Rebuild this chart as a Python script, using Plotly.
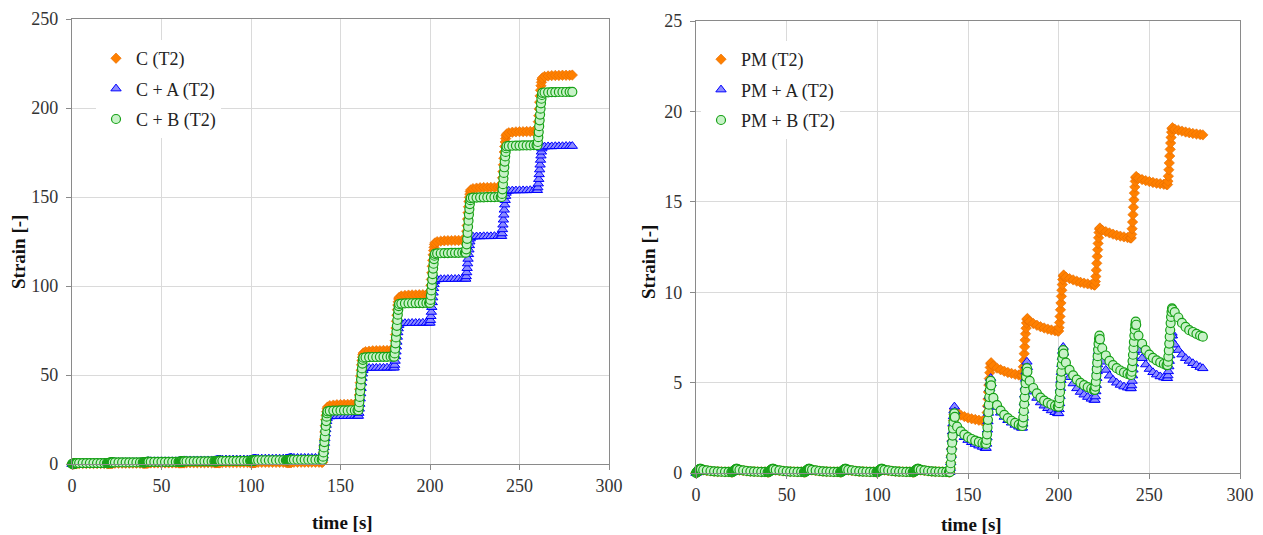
import plotly.graph_objects as go

# ---- sampling grid: cycle start times and in-cycle sample offsets (s) ----
CYCLE_STARTS = [0, 20, 40, 60, 80, 100, 120, 140, 160, 180, 200, 220, 240, 260]
OFFSETS = [0, 0.25, 0.5, 0.75, 1.0, 1.25, 1.5, 1.75, 2.0, 2.25, 2.5, 2.75,
           4, 6, 8, 10, 12, 14, 16, 18, 19.5]

# ---- left panel: strain per cycle (one row per 20 s cycle) ----
C_T2 = [
    [0, 0.02, 0.05, 0.08, 0.11, 0.14, 0.17, 0.2, 0.23, 0.26, 0.28, 0.29, 0.3, 0.3, 0.3, 0.3, 0.3, 0.3, 0.3, 0.3, 0.3],
    [0.3, 0.31, 0.32, 0.34, 0.36, 0.38, 0.4, 0.41, 0.42, 0.43, 0.44, 0.45, 0.45, 0.45, 0.45, 0.45, 0.45, 0.45, 0.45, 0.45, 0.45],
    [0.45, 0.46, 0.47, 0.49, 0.51, 0.53, 0.55, 0.56, 0.57, 0.58, 0.59, 0.6, 0.6, 0.6, 0.6, 0.6, 0.6, 0.6, 0.6, 0.6, 0.6],
    [0.6, 0.61, 0.62, 0.63, 0.64, 0.65, 0.66, 0.67, 0.68, 0.69, 0.7, 0.7, 0.7, 0.7, 0.7, 0.7, 0.7, 0.7, 0.7, 0.7, 0.7],
    [0.7, 0.71, 0.72, 0.73, 0.74, 0.75, 0.76, 0.77, 0.78, 0.79, 0.8, 0.8, 0.8, 0.8, 0.8, 0.8, 0.8, 0.8, 0.8, 0.8, 0.8],
    [0.8, 0.81, 0.82, 0.83, 0.84, 0.85, 0.86, 0.87, 0.88, 0.89, 0.9, 0.9, 0.9, 0.9, 0.9, 0.9, 0.9, 0.9, 0.9, 0.9, 0.9],
    [0.9, 0.91, 0.92, 0.93, 0.94, 0.95, 0.96, 0.97, 0.98, 0.99, 1.0, 1.0, 1.0, 1.0, 1.0, 1.0, 1.0, 1.0, 1.0, 1.0, 1.0],
    [1.0, 3.3, 6.5, 10.1, 14.0, 18.0, 21.5, 24.8, 27.4, 29.4, 31.0, 32.0, 32.8, 33.1, 33.3, 33.4, 33.5, 33.5, 33.6, 33.6, 33.6],
    [33.6, 35.7, 38.8, 42.1, 45.7, 49.4, 52.7, 55.7, 58.1, 60.0, 61.5, 62.4, 63.1, 63.4, 63.6, 63.7, 63.7, 63.8, 63.8, 63.8, 63.9],
    [63.9, 66.1, 69.2, 72.7, 76.4, 80.2, 83.6, 86.7, 89.3, 91.1, 92.7, 93.6, 94.4, 94.7, 94.9, 95.0, 95.0, 95.1, 95.1, 95.1, 95.2],
    [95.2, 97.3, 100.4, 103.7, 107.4, 111.1, 114.4, 117.5, 119.9, 121.7, 123.3, 124.2, 124.9, 125.2, 125.4, 125.5, 125.5, 125.6, 125.6, 125.6, 125.7],
    [125.7, 127.8, 130.8, 134.0, 137.6, 141.2, 144.5, 147.5, 149.8, 151.6, 153.1, 154.0, 154.7, 155.0, 155.2, 155.3, 155.3, 155.4, 155.4, 155.4, 155.5],
    [155.5, 157.7, 160.8, 164.3, 168.1, 171.8, 175.3, 178.4, 180.9, 182.8, 184.4, 185.3, 186.1, 186.4, 186.6, 186.7, 186.7, 186.8, 186.8, 186.8, 186.9],
    [186.9, 189.1, 192.3, 195.7, 199.5, 203.3, 206.8, 210.0, 212.5, 214.4, 216.0, 216.9, 217.7, 218.0, 218.2, 218.3, 218.3, 218.4, 218.4, 218.4, 218.5],
]
C_A_T2 = [
    [0, 0.04, 0.09, 0.15, 0.22, 0.28, 0.35, 0.41, 0.47, 0.53, 0.57, 0.59, 0.6, 0.6, 0.6, 0.6, 0.6, 0.6, 0.6, 0.6, 0.6],
    [0.6, 0.62, 0.66, 0.7, 0.74, 0.79, 0.83, 0.88, 0.92, 0.95, 0.98, 1.0, 1.0, 1.0, 1.0, 1.0, 1.0, 1.0, 1.0, 1.0, 1.0],
    [1.0, 1.03, 1.08, 1.13, 1.18, 1.24, 1.29, 1.35, 1.4, 1.44, 1.48, 1.5, 1.5, 1.5, 1.5, 1.5, 1.5, 1.5, 1.5, 1.5, 1.5],
    [1.5, 1.53, 1.58, 1.63, 1.68, 1.74, 1.79, 1.85, 1.9, 1.94, 1.98, 2.0, 2.0, 2.0, 2.0, 2.0, 2.0, 2.0, 2.0, 2.0, 2.0],
    [2.0, 2.03, 2.08, 2.13, 2.18, 2.24, 2.29, 2.35, 2.4, 2.44, 2.48, 2.5, 2.5, 2.5, 2.5, 2.5, 2.5, 2.5, 2.5, 2.5, 2.5],
    [2.5, 2.53, 2.58, 2.63, 2.68, 2.74, 2.79, 2.85, 2.9, 2.94, 2.98, 3.0, 3.0, 3.0, 3.0, 3.0, 3.0, 3.0, 3.0, 3.0, 3.0],
    [3.0, 3.02, 3.06, 3.1, 3.14, 3.19, 3.23, 3.28, 3.32, 3.35, 3.38, 3.4, 3.4, 3.4, 3.4, 3.4, 3.4, 3.4, 3.4, 3.4, 3.4],
    [3.4, 4.8, 6.9, 9.3, 11.8, 14.4, 17.0, 19.5, 21.9, 24.0, 25.6, 26.6, 26.7, 26.8, 26.8, 26.9, 26.9, 26.9, 27.0, 27.0, 27.0],
    [27.0, 28.6, 31.0, 33.7, 36.7, 39.6, 42.6, 45.6, 48.3, 50.7, 52.6, 53.6, 53.8, 53.9, 53.9, 54.0, 54.0, 54.0, 54.1, 54.1, 54.1],
    [54.1, 55.6, 57.9, 60.4, 63.1, 65.9, 68.6, 71.4, 73.9, 76.1, 77.9, 78.9, 79.0, 79.1, 79.1, 79.2, 79.2, 79.2, 79.3, 79.3, 79.3],
    [79.3, 80.8, 83.0, 85.4, 88.1, 90.8, 93.5, 96.2, 98.7, 100.9, 102.6, 103.5, 103.7, 103.8, 103.8, 103.9, 103.9, 103.9, 104.0, 104.0, 104.0],
    [104.0, 105.4, 107.6, 110.0, 112.6, 115.2, 117.8, 120.4, 122.8, 124.9, 126.6, 127.6, 127.7, 127.8, 127.8, 127.9, 127.9, 127.9, 128.0, 128.0, 128.0],
    [128.0, 129.5, 131.8, 134.4, 137.2, 140.0, 142.8, 145.7, 148.2, 150.5, 152.3, 153.3, 153.5, 153.6, 153.6, 153.7, 153.7, 153.7, 153.8, 153.8, 153.8],
    [153.8, 155.3, 157.5, 160.0, 162.7, 165.4, 168.1, 170.8, 173.2, 175.4, 177.2, 178.2, 178.3, 178.4, 178.4, 178.5, 178.5, 178.5, 178.6, 178.6, 178.6],
]
C_B_T2 = [
    [0, 0.03, 0.08, 0.13, 0.18, 0.24, 0.29, 0.35, 0.4, 0.44, 0.48, 0.5, 0.5, 0.5, 0.5, 0.5, 0.5, 0.5, 0.5, 0.5, 0.5],
    [0.5, 0.52, 0.56, 0.6, 0.64, 0.69, 0.73, 0.78, 0.82, 0.85, 0.88, 0.9, 0.9, 0.9, 0.9, 0.9, 0.9, 0.9, 0.9, 0.9, 0.9],
    [0.9, 0.92, 0.95, 0.98, 1.01, 1.04, 1.07, 1.11, 1.14, 1.16, 1.18, 1.2, 1.2, 1.2, 1.2, 1.2, 1.2, 1.2, 1.2, 1.2, 1.2],
    [1.2, 1.22, 1.25, 1.28, 1.31, 1.34, 1.37, 1.41, 1.44, 1.46, 1.48, 1.5, 1.5, 1.5, 1.5, 1.5, 1.5, 1.5, 1.5, 1.5, 1.5],
    [1.5, 1.52, 1.55, 1.58, 1.61, 1.64, 1.67, 1.71, 1.74, 1.76, 1.78, 1.8, 1.8, 1.8, 1.8, 1.8, 1.8, 1.8, 1.8, 1.8, 1.8],
    [1.8, 1.82, 1.85, 1.88, 1.91, 1.94, 1.97, 2.01, 2.04, 2.06, 2.08, 2.1, 2.1, 2.1, 2.1, 2.1, 2.1, 2.1, 2.1, 2.1, 2.1],
    [2.1, 2.12, 2.15, 2.18, 2.21, 2.24, 2.27, 2.31, 2.34, 2.36, 2.38, 2.4, 2.4, 2.4, 2.4, 2.4, 2.4, 2.4, 2.4, 2.4, 2.4],
    [2.4, 4.1, 6.5, 9.3, 12.3, 15.3, 18.4, 21.4, 24.1, 26.6, 28.5, 29.6, 29.9, 30.0, 30.0, 30.1, 30.1, 30.1, 30.2, 30.2, 30.2],
    [30.2, 32.0, 34.7, 37.7, 40.9, 44.2, 47.5, 50.8, 53.7, 56.4, 58.5, 59.7, 59.9, 60.0, 60.1, 60.1, 60.2, 60.2, 60.2, 60.3, 60.3],
    [60.3, 62.1, 64.8, 67.8, 71.1, 74.4, 77.6, 80.9, 83.9, 86.6, 88.7, 89.9, 90.1, 90.2, 90.3, 90.3, 90.4, 90.4, 90.4, 90.5, 90.5],
    [90.5, 92.2, 94.7, 97.5, 100.5, 103.6, 106.7, 109.8, 112.5, 115.1, 117.0, 118.1, 118.3, 118.4, 118.5, 118.5, 118.6, 118.6, 118.6, 118.7, 118.7],
    [118.7, 120.6, 123.4, 126.5, 129.9, 133.3, 136.7, 140.1, 143.2, 146.0, 148.2, 149.4, 149.6, 149.7, 149.8, 149.8, 149.9, 149.9, 149.9, 150.0, 150.0],
    [150.0, 151.7, 154.3, 157.2, 160.4, 163.5, 166.7, 169.9, 172.8, 175.3, 177.4, 178.5, 178.7, 178.8, 178.9, 178.9, 179.0, 179.0, 179.0, 179.1, 179.1],
    [179.1, 180.9, 183.6, 186.5, 189.8, 193.1, 196.3, 199.6, 202.6, 205.2, 207.3, 208.5, 208.7, 208.8, 208.9, 208.9, 209.0, 209.0, 209.0, 209.1, 209.1],
]

# ---- right panel ----
PM_T2 = [
    [0, 0.02, 0.04, 0.07, 0.1, 0.13, 0.15, 0.17, 0.19, 0.2, 0.2, 0.19, 0.16, 0.13, 0.11, 0.09, 0.08, 0.07, 0.06, 0.06, 0.05],
    [0.05, 0.06, 0.08, 0.1, 0.12, 0.14, 0.16, 0.18, 0.19, 0.2, 0.2, 0.19, 0.16, 0.13, 0.11, 0.09, 0.08, 0.07, 0.06, 0.06, 0.05],
    [0.05, 0.06, 0.08, 0.1, 0.12, 0.14, 0.16, 0.18, 0.19, 0.2, 0.2, 0.19, 0.16, 0.13, 0.11, 0.09, 0.08, 0.07, 0.06, 0.06, 0.05],
    [0.05, 0.06, 0.08, 0.1, 0.12, 0.14, 0.16, 0.18, 0.19, 0.2, 0.2, 0.19, 0.16, 0.13, 0.11, 0.09, 0.08, 0.07, 0.06, 0.06, 0.05],
    [0.05, 0.06, 0.08, 0.1, 0.12, 0.14, 0.16, 0.18, 0.19, 0.2, 0.2, 0.19, 0.16, 0.13, 0.11, 0.09, 0.08, 0.07, 0.06, 0.06, 0.05],
    [0.05, 0.06, 0.08, 0.1, 0.12, 0.14, 0.16, 0.18, 0.19, 0.2, 0.2, 0.19, 0.16, 0.13, 0.11, 0.09, 0.08, 0.07, 0.06, 0.06, 0.05],
    [0.05, 0.06, 0.08, 0.1, 0.12, 0.14, 0.16, 0.18, 0.19, 0.2, 0.2, 0.19, 0.16, 0.13, 0.11, 0.09, 0.08, 0.07, 0.06, 0.06, 0.05],
    [0.05, 0.26, 0.57, 0.95, 1.36, 1.78, 2.19, 2.57, 2.91, 3.22, 3.43, 3.5, 3.32, 3.2, 3.12, 3.05, 3.0, 2.96, 2.92, 2.88, 2.85],
    [2.85, 3.05, 3.34, 3.7, 4.09, 4.48, 4.87, 5.22, 5.55, 5.84, 6.04, 6.1, 5.92, 5.8, 5.71, 5.63, 5.56, 5.51, 5.46, 5.42, 5.4],
    [5.4, 5.59, 5.87, 6.22, 6.6, 6.98, 7.35, 7.7, 8.01, 8.3, 8.49, 8.55, 8.38, 8.27, 8.17, 8.09, 8.02, 7.96, 7.91, 7.87, 7.85],
    [7.85, 8.04, 8.32, 8.66, 9.03, 9.4, 9.77, 10.11, 10.42, 10.7, 10.89, 10.95, 10.83, 10.75, 10.68, 10.61, 10.55, 10.5, 10.46, 10.42, 10.4],
    [10.4, 10.59, 10.87, 11.22, 11.6, 11.98, 12.35, 12.7, 13.01, 13.3, 13.49, 13.55, 13.43, 13.35, 13.28, 13.21, 13.15, 13.1, 13.06, 13.02, 13.0],
    [13.0, 13.2, 13.51, 13.88, 14.29, 14.7, 15.11, 15.48, 15.82, 16.13, 16.33, 16.4, 16.3, 16.23, 16.17, 16.12, 16.07, 16.03, 16.0, 15.97, 15.95],
    [15.95, 16.14, 16.42, 16.77, 17.15, 17.53, 17.9, 18.25, 18.56, 18.85, 19.04, 19.1, 19.02, 18.96, 18.91, 18.86, 18.82, 18.78, 18.75, 18.72, 18.7],
]
PM_A_T2 = [
    [0, 0.02, 0.04, 0.07, 0.1, 0.13, 0.16, 0.18, 0.2, 0.21, 0.21, 0.19, 0.16, 0.13, 0.11, 0.09, 0.08, 0.07, 0.06, 0.06, 0.05],
    [0.05, 0.06, 0.08, 0.1, 0.12, 0.14, 0.16, 0.18, 0.2, 0.21, 0.21, 0.19, 0.16, 0.13, 0.11, 0.09, 0.08, 0.07, 0.06, 0.06, 0.05],
    [0.05, 0.06, 0.08, 0.1, 0.12, 0.14, 0.16, 0.18, 0.2, 0.21, 0.21, 0.19, 0.16, 0.13, 0.11, 0.09, 0.08, 0.07, 0.06, 0.06, 0.05],
    [0.05, 0.06, 0.08, 0.1, 0.12, 0.14, 0.16, 0.18, 0.2, 0.21, 0.21, 0.19, 0.16, 0.13, 0.11, 0.09, 0.08, 0.07, 0.06, 0.06, 0.05],
    [0.05, 0.06, 0.08, 0.1, 0.12, 0.14, 0.16, 0.18, 0.2, 0.21, 0.21, 0.19, 0.16, 0.13, 0.11, 0.09, 0.08, 0.07, 0.06, 0.06, 0.05],
    [0.05, 0.06, 0.08, 0.1, 0.12, 0.14, 0.16, 0.18, 0.2, 0.21, 0.21, 0.19, 0.16, 0.13, 0.11, 0.09, 0.08, 0.07, 0.06, 0.06, 0.05],
    [0.05, 0.06, 0.08, 0.1, 0.12, 0.14, 0.16, 0.18, 0.2, 0.21, 0.21, 0.19, 0.16, 0.13, 0.11, 0.09, 0.08, 0.07, 0.06, 0.06, 0.05],
    [0.05, 0.27, 0.59, 0.99, 1.43, 1.86, 2.29, 2.73, 3.13, 3.45, 3.67, 3.4, 2.55, 2.2, 1.98, 1.82, 1.7, 1.6, 1.51, 1.44, 1.38],
    [1.38, 1.61, 1.96, 2.39, 2.85, 3.32, 3.78, 4.24, 4.67, 5.02, 5.25, 4.95, 4.1, 3.65, 3.33, 3.1, 2.92, 2.78, 2.66, 2.56, 2.5],
    [2.5, 2.72, 3.05, 3.45, 3.89, 4.33, 4.76, 5.2, 5.6, 5.93, 6.15, 5.85, 5.0, 4.5, 4.15, 3.9, 3.72, 3.58, 3.46, 3.36, 3.3],
    [3.3, 3.52, 3.85, 4.25, 4.69, 5.14, 5.58, 6.02, 6.42, 6.75, 6.97, 6.65, 5.8, 5.3, 4.95, 4.68, 4.48, 4.33, 4.2, 4.1, 4.04],
    [4.04, 4.23, 4.51, 4.86, 5.24, 5.62, 6.0, 6.38, 6.73, 7.01, 7.2, 6.95, 6.15, 5.7, 5.38, 5.15, 4.99, 4.87, 4.78, 4.72, 4.68],
    [4.68, 4.84, 5.09, 5.39, 5.71, 6.04, 6.37, 6.69, 6.99, 7.24, 7.4, 7.2, 6.8, 6.35, 6.0, 5.75, 5.57, 5.44, 5.34, 5.28, 5.24],
    [5.24, 5.39, 5.62, 5.89, 6.19, 6.5, 6.8, 7.1, 7.37, 7.6, 7.75, 7.6, 7.1, 6.8, 6.55, 6.35, 6.2, 6.07, 5.96, 5.86, 5.79],
]
PM_B_T2 = [
    [0, 0.02, 0.05, 0.08, 0.11, 0.14, 0.17, 0.19, 0.21, 0.23, 0.23, 0.21, 0.17, 0.14, 0.11, 0.09, 0.08, 0.07, 0.06, 0.06, 0.05],
    [0.05, 0.07, 0.09, 0.11, 0.13, 0.15, 0.17, 0.19, 0.21, 0.23, 0.23, 0.21, 0.17, 0.14, 0.11, 0.09, 0.08, 0.07, 0.06, 0.06, 0.05],
    [0.05, 0.07, 0.09, 0.11, 0.13, 0.15, 0.17, 0.19, 0.21, 0.23, 0.23, 0.21, 0.17, 0.14, 0.11, 0.09, 0.08, 0.07, 0.06, 0.06, 0.05],
    [0.05, 0.07, 0.09, 0.11, 0.13, 0.15, 0.17, 0.19, 0.21, 0.23, 0.23, 0.21, 0.17, 0.14, 0.11, 0.09, 0.08, 0.07, 0.06, 0.06, 0.05],
    [0.05, 0.07, 0.09, 0.11, 0.13, 0.15, 0.17, 0.19, 0.21, 0.23, 0.23, 0.21, 0.17, 0.14, 0.11, 0.09, 0.08, 0.07, 0.06, 0.06, 0.05],
    [0.05, 0.07, 0.09, 0.11, 0.13, 0.15, 0.17, 0.19, 0.21, 0.23, 0.23, 0.21, 0.17, 0.14, 0.11, 0.09, 0.08, 0.07, 0.06, 0.06, 0.05],
    [0.05, 0.07, 0.09, 0.11, 0.13, 0.15, 0.17, 0.19, 0.21, 0.23, 0.23, 0.21, 0.17, 0.14, 0.11, 0.09, 0.08, 0.07, 0.06, 0.06, 0.05],
    [0.05, 0.25, 0.54, 0.9, 1.29, 1.68, 2.07, 2.46, 2.81, 3.11, 3.3, 3.1, 2.56, 2.3, 2.12, 1.98, 1.88, 1.79, 1.72, 1.66, 1.62],
    [1.62, 1.83, 2.14, 2.52, 2.94, 3.36, 3.78, 4.2, 4.58, 4.89, 5.1, 4.85, 4.15, 3.75, 3.45, 3.22, 3.04, 2.89, 2.77, 2.67, 2.6],
    [2.6, 2.79, 3.08, 3.43, 3.82, 4.2, 4.58, 4.97, 5.32, 5.61, 5.8, 5.6, 5.1, 4.7, 4.4, 4.17, 4.0, 3.88, 3.79, 3.71, 3.67],
    [3.67, 3.86, 4.14, 4.48, 4.86, 5.24, 5.61, 5.99, 6.33, 6.61, 6.8, 6.6, 6.1, 5.7, 5.4, 5.17, 4.99, 4.86, 4.75, 4.66, 4.6],
    [4.6, 4.78, 5.05, 5.38, 5.74, 6.1, 6.46, 6.82, 7.15, 7.42, 7.6, 7.4, 6.9, 6.5, 6.2, 5.97, 5.8, 5.67, 5.57, 5.48, 5.42],
    [5.42, 5.6, 5.86, 6.19, 6.54, 6.9, 7.25, 7.6, 7.93, 8.19, 8.37, 8.2, 7.6, 7.15, 6.8, 6.55, 6.37, 6.23, 6.12, 6.03, 5.97],
    [5.97, 6.16, 6.44, 6.78, 7.16, 7.54, 7.91, 8.29, 8.63, 8.91, 9.1, 9.05, 8.9, 8.6, 8.3, 8.08, 7.9, 7.8, 7.7, 7.6, 7.54],
]

X_TICKS = [0, 50, 100, 150, 200, 250, 300]
LEFT_Y_TICKS = [0, 50, 100, 150, 200, 250]
RIGHT_Y_TICKS = [0, 5, 10, 15, 20, 25]

W, H = 1263, 535
FONT = "'Liberation Serif', 'Times New Roman', Tinos, 'DejaVu Serif', serif"


def times():
    return [s + o for s in CYCLE_STARTS for o in OFFSETS]


def flat(rows):
    return [v for r in rows for v in r]


STYLES = {
    "orange": dict(symbol="diamond", size=8, color="#FF8000", line=dict(color="#E46C00", width=0.6)),
    "blue": dict(symbol="triangle-up", size=9, color="#8C8CFF", line=dict(color="#0000FF", width=1)),
    "green": dict(symbol="circle", size=9, color="#C8F2C8", line=dict(color="#17A117", width=1.2)),
}

fig = go.Figure()
left = [("C (T2)", C_T2, "orange"), ("C + A (T2)", C_A_T2, "blue"), ("C + B (T2)", C_B_T2, "green")]
right = [("PM (T2)", PM_T2, "orange"), ("PM + A (T2)", PM_A_T2, "blue"), ("PM + B (T2)", PM_B_T2, "green")]
for name, rows, st in left:
    fig.add_trace(go.Scatter(x=times(), y=flat(rows), mode="markers", name=name, marker=STYLES[st],
                             xaxis="x", yaxis="y", legend="legend", legendgroup=name, cliponaxis=False))
for name, rows, st in right:
    fig.add_trace(go.Scatter(x=times(), y=flat(rows), mode="markers", name=name, marker=STYLES[st],
                             xaxis="x2", yaxis="y2", legend="legend2", legendgroup=name, cliponaxis=False))


def px_x(p):
    return p / W


def px_y(p):
    return 1 - p / H


axis_common = dict(showgrid=True, gridcolor="#DADADA", gridwidth=1, linecolor="#8A8A8A", linewidth=1.3,
                   mirror=True, ticks="outside", ticklen=5, tickcolor="#8A8A8A", zeroline=False,
                   tickfont=dict(family=FONT, size=18, color="#333333"), showline=True, automargin=False)

fig.update_layout(
    width=W, height=H, margin=dict(l=0, r=0, t=0, b=0, autoexpand=False),
    paper_bgcolor="white", plot_bgcolor="white",
    xaxis=dict(domain=[px_x(72), px_x(609)], range=[0, 300], tickvals=X_TICKS, anchor="y", **axis_common),
    yaxis=dict(domain=[px_y(464), px_y(19)], range=[0, 250], tickvals=LEFT_Y_TICKS, anchor="x",
               ticklabelstandoff=4, **axis_common),
    xaxis2=dict(domain=[px_x(696), px_x(1240)], range=[0, 300], tickvals=X_TICKS, anchor="y2", **axis_common),
    yaxis2=dict(domain=[px_y(473), px_y(21)], range=[0, 25], tickvals=RIGHT_Y_TICKS, anchor="x2",
                ticklabelstandoff=4, **axis_common),
    legend=dict(x=px_x(96), y=px_y(40), xanchor="left", yanchor="top", bgcolor="white",
                font=dict(family=FONT, size=18, color="#222222"), tracegroupgap=4, traceorder="grouped"),
    legend2=dict(x=px_x(701), y=px_y(41), xanchor="left", yanchor="top", bgcolor="white",
                 font=dict(family=FONT, size=18, color="#222222"), tracegroupgap=4, traceorder="grouped"),
    showlegend=True,
)

title_font = dict(family=FONT, size=19, color="#111111")
fig.add_annotation(text="<b>time [s]</b>", x=px_x(342), y=px_y(522), xref="paper", yref="paper",
                   showarrow=False, font=title_font, xanchor="center", yanchor="middle")
fig.add_annotation(text="<b>time [s]</b>", x=px_x(971), y=px_y(524), xref="paper", yref="paper",
                   showarrow=False, font=title_font, xanchor="center", yanchor="middle")
fig.add_annotation(text="<b>Strain [-]</b>", x=px_x(18), y=px_y(252), xref="paper", yref="paper",
                   showarrow=False, font=title_font, textangle=-90, xanchor="center", yanchor="middle")
fig.add_annotation(text="<b>Strain [-]</b>", x=px_x(648), y=px_y(262), xref="paper", yref="paper",
                   showarrow=False, font=title_font, textangle=-90, xanchor="center", yanchor="middle")

fig.write_html("out.html")
